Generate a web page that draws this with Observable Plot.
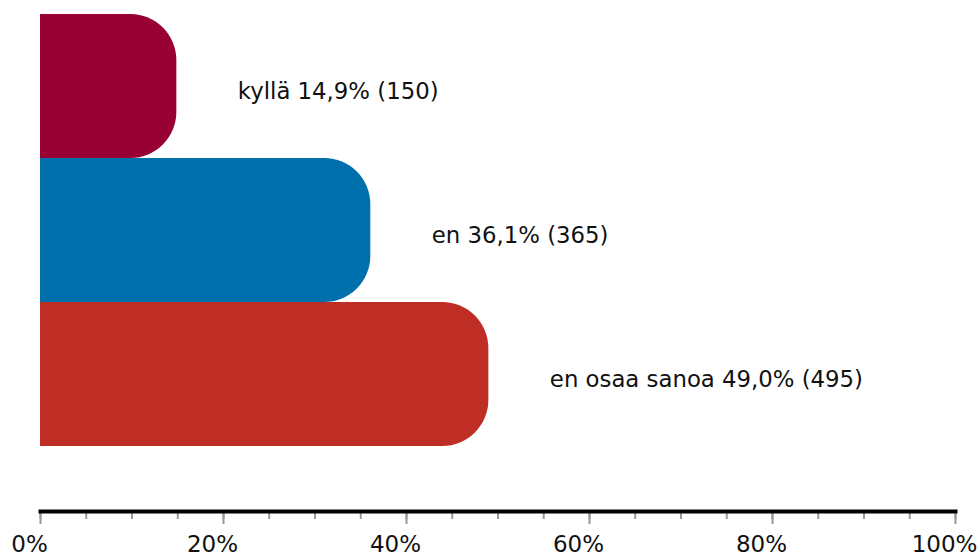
<!DOCTYPE html>
<html>
<head>
<meta charset="utf-8">
<script src="https://cdn.jsdelivr.net/npm/d3@7"></script>
<script src="https://cdn.jsdelivr.net/npm/@observablehq/plot@0.6"></script>
<style>
  html, body { margin: 0; padding: 0; background: #fff; }
  #chart svg { display: block; }
</style>
</head>
<body>
<div id="chart"></div>
<script>
const categories = ["kyllä", "en", "en osaa sanoa"];
const percents = [14.9, 36.1, 49.0];
const counts = [150, 365, 495];
const colors = ["#990033", "#0070AC", "#BE2E25"];
const majorTicks = [0, 20, 40, 60, 80, 100];
const minorTicks = d3.range(0, 101, 5);

const data = categories.map((c, i) => ({
  cat: c,
  pct: percents[i],
  n: counts[i],
  color: colors[i],
  label: `${c} ${percents[i].toFixed(1).replace(".", ",")}% (${counts[i]})`
}));

const chart = Plot.plot({
  width: 978,
  height: 556,
  marginLeft: 40,
  marginRight: 23,
  marginTop: 14,
  marginBottom: 45,
  style: { fontFamily: "DejaVu Sans, sans-serif", background: "#fff" },
  x: { domain: [0, 100], label: null },
  y: { domain: categories, range: [14, 446], padding: 0, axis: null },
  marks: [
    Plot.barX(data, { x: "pct", y: "cat", fill: "color", rx: 46 }),
    Plot.barX(data, { x: d => d.pct / 2, y: "cat", fill: "color" }),
    Plot.text(data, {
      x: "pct", y: "cat", text: "label", textAnchor: "start",
      dx: 61, dy: 5, fontSize: 22.8, fill: "#111"
    }),
    Plot.axisX({ ticks: minorTicks, tickSize: 8, stroke: "#999", strokeWidth: 2, text: null, label: null }),
    Plot.axisX({ ticks: majorTicks, tickSize: 13, stroke: "#999", strokeWidth: 2, text: null, label: null }),
    Plot.axisX({
      ticks: majorTicks, tickSize: 0, tickPadding: 24,
      tickFormat: d => d + "%", fontSize: 23, fill: "#111", dx: -11, label: null
    }),
    Plot.frame({ anchor: "bottom", stroke: "#000", strokeWidth: 4 })
  ]
});
document.getElementById("chart").append(chart);
</script>
</body>
</html>
